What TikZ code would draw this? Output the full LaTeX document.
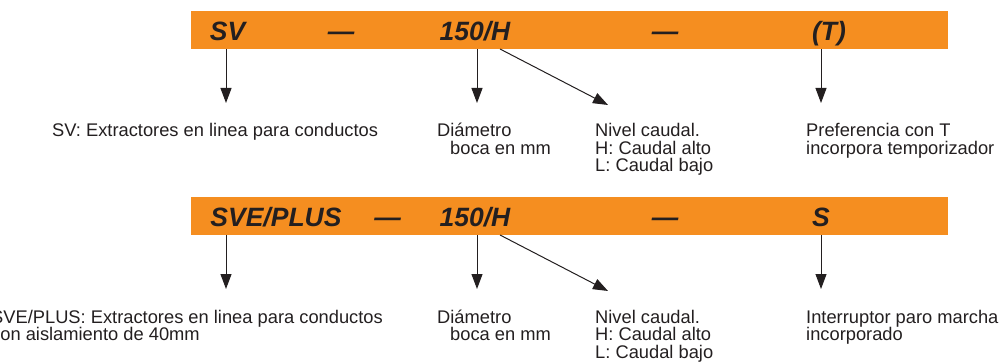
\documentclass[tikz,border=0pt]{standalone}
\usepackage{fontspec}
\setmainfont{Liberation Sans}
\usepackage{xcolor}
\usepackage{tikz}
\usetikzlibrary{arrows.meta}
\definecolor{barorange}{RGB}{245,142,32}
\definecolor{ink}{RGB}{35,31,32}

\begin{document}
\begin{tikzpicture}[x=1pt,y=-1pt,every node/.style={inner sep=0pt,text=ink},
    codebar/.style={fill=barorange,minimum width=757pt,minimum height=38pt,anchor=north west},
    code/.style={anchor=base,font=\fontsize{26.5}{28}\selectfont\bfseries\itshape},
    desc/.style={anchor=base west,align=left,font=\fontsize{18.3}{17.5}\selectfont},
    pointer/.style={draw=ink,line width=1pt,-{Triangle[width=11pt,length=15pt]}}]
  \useasboundingbox (0,0) rectangle (1003,363);
  \node[codebar] (barA) at (191,11) {};
  \node[code] (svA) at (227.5,41) {SV};
  \node[code] (dashA) at (341,41) {\textemdash};
  \node[code] (sizeA) at (475,41) {150/H};
  \node[code] (dashB) at (665,41) {\textemdash};
  \node[code] (optA) at (829,41) {(T)};
  \coordinate (tipA) at (226,103);
  \coordinate (tipB) at (477,103);
  \coordinate (startC) at (500,49);
  \coordinate (tipC) at (608,105);
  \coordinate (tipD) at (821,103);
  \draw[pointer] (barA.south -| tipA) -- (tipA);
  \draw[pointer] (barA.south -| tipB) -- (tipB);
  \draw[pointer] (startC) -- (tipC);
  \draw[pointer] (barA.south -| tipD) -- (tipD);
  \node[desc] (typeA) at (52,137) {SV: Extractores en linea para conductos};
  \node[desc] (diamA) at (437,154.5) {Diámetro\\\hspace*{13pt}boca en mm};
  \node[desc] (levelA) at (595,172) {Nivel caudal.\\H: Caudal alto\\L: Caudal bajo};
  \node[desc] (extraA) at (806,154.5) {Preferencia con T\\incorpora temporizador};
  \node[codebar] (barB) at (191,197) {};
  \node[code] (svB) at (276,227) {SVE/PLUS};
  \node[code] (dashC) at (387.5,227) {\textemdash};
  \node[code] (sizeB) at (475,227) {150/H};
  \node[code] (dashD) at (665,227) {\textemdash};
  \node[code] (optB) at (821,227) {S};
  \coordinate (tipE) at (226,289);
  \coordinate (tipF) at (477,289);
  \coordinate (startG) at (500,235);
  \coordinate (tipG) at (608,291);
  \coordinate (tipH) at (821,289);
  \draw[pointer] (barB.south -| tipE) -- (tipE);
  \draw[pointer] (barB.south -| tipF) -- (tipF);
  \draw[pointer] (startG) -- (tipG);
  \draw[pointer] (barB.south -| tipH) -- (tipH);
  \node[desc] (typeB) at (-9,340.5) {SVE/PLUS: Extractores en linea para conductos\\con aislamiento de 40mm};
  \node[desc] (diamB) at (437,340.5) {Diámetro\\\hspace*{13pt}boca en mm};
  \node[desc] (levelB) at (595,358) {Nivel caudal.\\H: Caudal alto\\L: Caudal bajo};
  \node[desc] (extraB) at (806,340.5) {Interruptor paro marcha\\incorporado};
\end{tikzpicture}
\end{document}
